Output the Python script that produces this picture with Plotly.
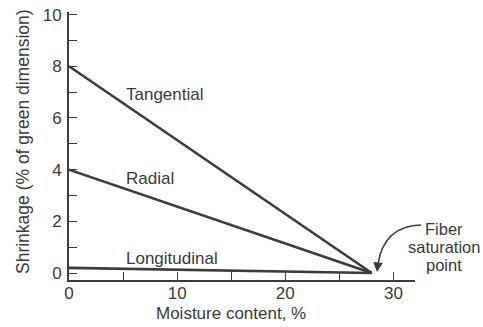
import plotly.graph_objects as go

moisture = [0, 28]
tangential = [8, 0]
radial = [4, 0]
longitudinal = [0.2, 0]
labels = ["Tangential", "Radial", "Longitudinal"]
label_pos = [(5.05, 6.9), (5.05, 3.65), (5.05, 0.55)]
fsp_lines = ["Fiber", "saturation", "point"]
x_ticks = [0, 10, 20, 30]
y_ticks = [0, 2, 4, 6, 8, 10]

ink = "#3c3c3c"
txt = "#3a3a3a"
font = "Liberation Sans, Arial, sans-serif"
FS = 17

fig = go.Figure()
for ys in (tangential, radial, longitudinal):
    fig.add_trace(go.Scatter(x=moisture, y=ys, mode="lines",
                             line=dict(color=ink, width=2.6), showlegend=False,
                             hoverinfo="skip"))

for t, (xx, yy) in zip(labels, label_pos):
    fig.add_annotation(x=xx, y=yy, text=t, showarrow=False, xanchor="left",
                       font=dict(size=FS, color=txt, family=font))

# plot area in screen pixels
W0, W1 = 69, 415
H0, H1 = 12, 280
def px(x):
    return (x - W0) / (W1 - W0)
def py(y):
    return (H1 - y) / (H1 - H0)

for t, yy in zip(fsp_lines, (229, 247, 265)):
    fig.add_annotation(xref="paper", yref="paper", x=px(444), y=py(yy),
                       text=t, showarrow=False, xanchor="center", yanchor="middle",
                       font=dict(size=16.5, color=txt, family=font))

path = "M {:.4f},{:.4f} Q {:.4f},{:.4f} {:.4f},{:.4f}".format(
    px(421), py(225), px(384), py(226), px(378), py(264))
fig.add_shape(type="path", xref="paper", yref="paper", path=path,
              line=dict(color=ink, width=1.6))
fig.add_annotation(xref="paper", yref="paper", x=px(377), y=py(272),
                   ax=1, ay=-9, axref="pixel", ayref="pixel",
                   text="", showarrow=True, arrowhead=2, arrowsize=1.2,
                   arrowwidth=1.6, arrowcolor=ink)

fig.add_annotation(xref="paper", yref="paper", x=px(231), y=py(313),
                   text="Moisture content, %", showarrow=False,
                   xanchor="center", yanchor="middle",
                   font=dict(size=FS, color=txt, family=font))
fig.add_annotation(xref="paper", yref="paper", x=px(23), y=py(142),
                   text="Shrinkage (% of green dimension)", showarrow=False,
                   textangle=-90, xanchor="center", yanchor="middle",
                   font=dict(size=17.5, color=txt, family=font))

fig.update_xaxes(range=[0, 32], tickvals=x_ticks, ticktext=[str(v) for v in x_ticks],
                 ticks="inside", ticklen=8, tickwidth=1.3, tickcolor=ink,
                 minor=dict(dtick=5, tick0=0, ticks="inside", ticklen=8, tickwidth=1.3, tickcolor=ink),
                 showline=True, linecolor=ink, linewidth=2, showgrid=False, zeroline=False,
                 tickfont=dict(size=FS, color=txt, family=font), automargin=False,
                 ticklabelstandoff=-3, ticklabeloverflow="allow")
fig.update_yaxes(range=[-0.27, 10.1], tickvals=y_ticks, ticktext=[str(v) for v in y_ticks],
                 ticks="inside", ticklen=8, tickwidth=1.3, tickcolor=ink,
                 minor=dict(dtick=1, tick0=0, ticks="inside", ticklen=8, tickwidth=1.3, tickcolor=ink),
                 showline=True, linecolor=ink, linewidth=2, showgrid=False, zeroline=False,
                 tickfont=dict(size=FS, color=txt, family=font), automargin=False,
                 ticklabelstandoff=2, ticklabeloverflow="allow")

fig.update_layout(width=483, height=327,
                  margin=dict(l=W0, r=483 - W1, t=H0, b=327 - H1),
                  plot_bgcolor="white", paper_bgcolor="white")
fig.write_html("out.html", config={"displayModeBar": False},
               post_script="document.body.style.margin='0';document.body.style.overflow='hidden';")
